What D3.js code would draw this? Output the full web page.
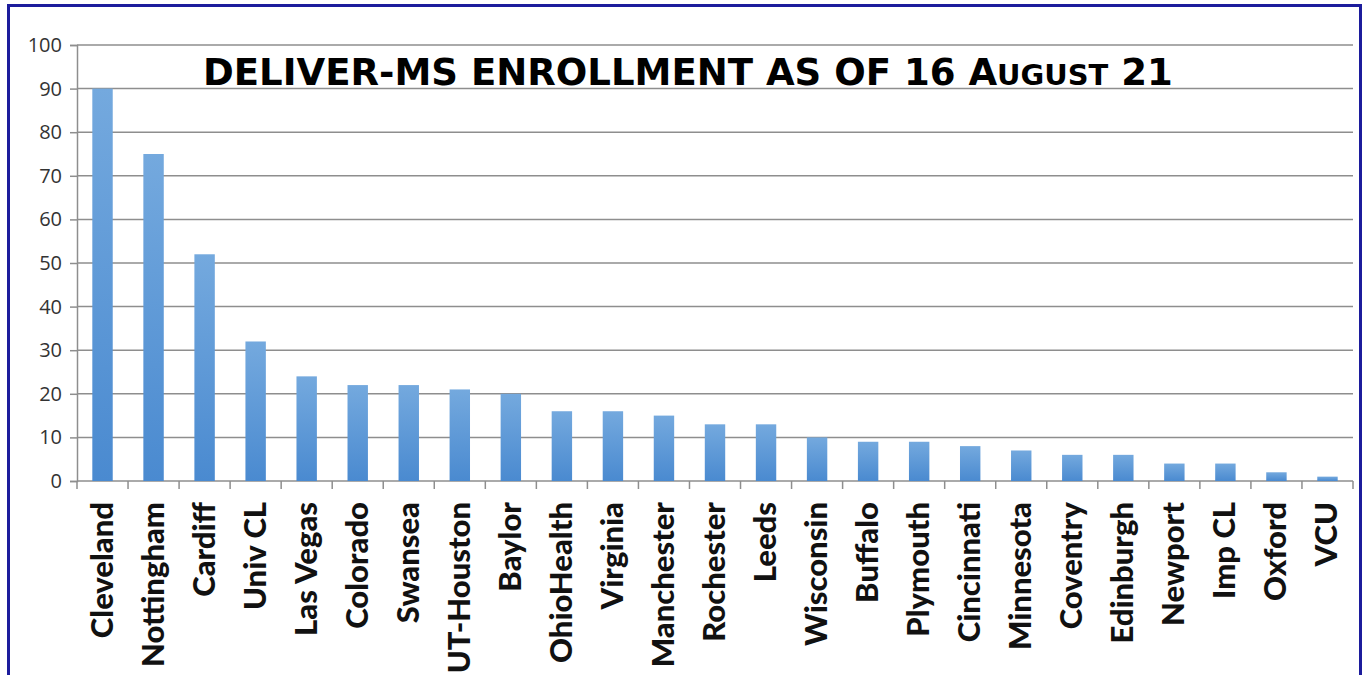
<!DOCTYPE html>
<meta charset="utf-8">
<script src="https://d3js.org/d3.v7.min.js"></script>
<style>
  body { margin: 0; background: #fff; }
</style>
<div id="chart"></div>
<script>
  // data
  const sites = ["Cleveland", "Nottingham", "Cardiff", "Univ CL", "Las Vegas", "Colorado", "Swansea",
    "UT-Houston", "Baylor", "OhioHealth", "Virginia", "Manchester", "Rochester", "Leeds", "Wisconsin",
    "Buffalo", "Plymouth", "Cincinnati", "Minnesota", "Coventry", "Edinburgh", "Newport", "Imp CL",
    "Oxford", "VCU"];
  const enrolled = [90, 75, 52, 32, 24, 22, 22, 21, 20, 16, 16, 15, 13, 13, 10, 9, 9, 8, 7, 6, 6, 4, 4, 2, 1];
  const yTicks = [0, 10, 20, 30, 40, 50, 60, 70, 80, 90, 100];

  const W = 1365, H = 675;
  const margin = { top: 45, right: 12, bottom: 194, left: 77 },
    width = W - margin.left - margin.right,
    height = H - margin.top - margin.bottom;

  const root = d3.select("#chart").append("svg")
    .attr("width", W)
    .attr("height", H);

  // outer frame
  root.append("rect")
    .attr("x", 8.5).attr("y", 5.5)
    .attr("width", 1352).attr("height", 680)
    .attr("fill", "#fff")
    .attr("stroke", "#1c1c9c")
    .attr("stroke-width", 3);

  const defs = root.append("defs");
  const grad = defs.append("linearGradient")
    .attr("id", "barGrad")
    .attr("x1", 0).attr("x2", 0).attr("y1", 0).attr("y2", 1);
  grad.append("stop").attr("offset", "0%").attr("stop-color", "#74a9de");
  grad.append("stop").attr("offset", "100%").attr("stop-color", "#4a8ad0");

  const svg = root.append("g")
    .attr("transform", `translate(${margin.left}, ${margin.top})`);

  const x = d3.scaleBand()
    .domain(sites)
    .range([0, width])
    .paddingInner(0.6)
    .paddingOuter(0.3);

  const y = d3.scaleLinear()
    .domain([0, 100])
    .range([height, 0]);

  // gridlines
  svg.append("g")
    .selectAll("line")
    .data(yTicks)
    .join("line")
    .attr("x1", 0)
    .attr("x2", width)
    .attr("y1", d => y(d))
    .attr("y2", d => y(d))
    .attr("stroke", "#8e8e8e")
    .attr("stroke-width", 1.5);

  // y axis
  const yAxis = svg.append("g")
    .call(d3.axisLeft(y).tickValues(yTicks).tickSize(7).tickPadding(8));
  yAxis.select(".domain").attr("stroke", "#8e8e8e").attr("stroke-width", 1.5);
  yAxis.selectAll(".tick line").attr("stroke", "#8e8e8e").attr("stroke-width", 1.5);
  yAxis.selectAll(".tick text")
    .attr("font-family", "'Open Sans', sans-serif")
    .attr("font-size", "20px")
    .attr("fill", "#333");

  // x axis: ticks at band boundaries
  const boundaries = d3.range(sites.length + 1).map(i => i * width / sites.length);
  svg.append("g")
    .selectAll("line")
    .data(boundaries)
    .join("line")
    .attr("x1", d => d).attr("x2", d => d)
    .attr("y1", height).attr("y2", height + 8)
    .attr("stroke", "#8e8e8e")
    .attr("stroke-width", 1.5);

  // bars
  svg.selectAll(".bar")
    .data(sites)
    .join("rect")
    .attr("class", "bar")
    .attr("x", d => x(d))
    .attr("y", (d, i) => y(enrolled[i]))
    .attr("width", x.bandwidth())
    .attr("height", (d, i) => height - y(enrolled[i]))
    .attr("fill", "url(#barGrad)");

  // category labels, rotated
  svg.selectAll(".lab")
    .data(sites)
    .join("text")
    .attr("class", "lab")
    .attr("transform", d => `translate(${x(d) + x.bandwidth() / 2 + 10}, ${height + 21}) rotate(-90)`)
    .attr("text-anchor", "end")
    .attr("font-family", "Lato, sans-serif")
    .attr("font-weight", "900")
    .attr("font-size", "31px")
    .attr("fill", "#111")
    .text(d => d);

  // title with small caps for the month
  const title = root.append("text")
    .attr("x", 203)
    .attr("y", 85)
    .attr("font-family", "'DejaVu Sans', sans-serif")
    .attr("font-weight", "bold")
    .attr("font-size", "40px")
    .attr("fill", "#000");
  title.append("tspan").text("DELIVER-MS ENROLLMENT AS OF 16 A");
  title.append("tspan").attr("font-size", "0.78em").text("UGUST");
  title.append("tspan").text(" 21");
  // scale the font so the title spans the same width as in the picture
  const tw = title.node().getComputedTextLength();
  title.attr("font-size", (40 * 970 / tw) + "px");
</script>
